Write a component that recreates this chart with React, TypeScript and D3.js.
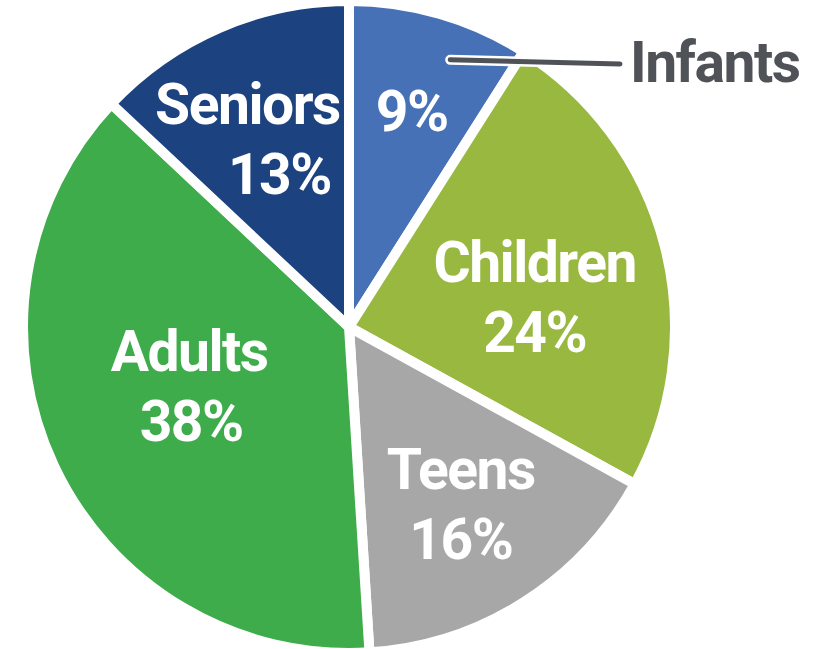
import React from 'react';
import * as d3 from 'd3';

const categories = ['Infants', 'Children', 'Teens', 'Adults', 'Seniors'];
const shares = [9, 24, 16, 38, 13];
const colors = ['#4671b7', '#98b840', '#a6a7a6', '#3eac4a', '#1c4380'];
// how far out each label block sits, as a fraction of the radius
const labelRadius = [0.7, 0.61, 0.65, 0.54, 0.64];
// small nudges for the label blocks
const nameNudge = [0, -4, 0, -3, -20];
const pctNudge = [0, -4, 0, -1, 12];
const yNudge = [0, 18, 0, -16, 0];

const width = 826;
const height = 649;
const cx = 349;
const cy = 327;
const radius = 326;

const labelStyle: React.CSSProperties = {
  fontFamily: 'Roboto, "Open Sans", sans-serif',
  fontWeight: 700,
  fontSize: 57,
  letterSpacing: -1.5,
  fill: '#ffffff',
};

export default function App() {
  const pie = d3
    .pie<number>()
    .sort(null)
    .value((d) => d);
  const arcs = pie(shares);

  const arc = d3
    .arc<d3.PieArcDatum<number>>()
    .innerRadius(0)
    .outerRadius(radius);

  const infants = arcs[0];
  const leadAngle =
    infants.startAngle + 0.64 * (infants.endAngle - infants.startAngle);
  const [lx, ly] = d3.pointRadial(leadAngle, (radius - 5) * 0.89);

  return (
    <svg
      width={width}
      height={height}
      style={{position: 'absolute', left: 0, top: 0, background: '#fff'}}>
      <g transform={`translate(${cx},${cy})`}>
        {arcs.map((a, i) => (
          <path
            key={categories[i]}
            d={arc(a) || ''}
            fill={colors[i]}
            stroke="#ffffff"
            strokeWidth={10}
            strokeLinejoin="miter"
          />
        ))}
        {arcs.map((a, i) => {
          const mid = (a.startAngle + a.endAngle) / 2;
          const [x, y0] = d3.pointRadial(mid, (radius - 5) * labelRadius[i]);
          const y = y0 + yNudge[i];
          if (i === 0) {
            return (
              <text
                key={'l' + i}
                x={x}
                y={y + 20}
                textAnchor="middle"
                style={labelStyle}>
                {shares[i]}%
              </text>
            );
          }
          return (
            <g key={'l' + i}>
              <text
                x={x + nameNudge[i]}
                y={y - 14}
                textAnchor="middle"
                style={labelStyle}>
                {categories[i]}
              </text>
              <text
                x={x + pctNudge[i]}
                y={y + 56}
                textAnchor="middle"
                style={labelStyle}>
                {shares[i]}%
              </text>
            </g>
          );
        })}
        <line
          x1={lx}
          y1={ly}
          x2={620 - cx}
          y2={64 - cy}
          stroke="#ffffff"
          strokeWidth={10}
          strokeLinecap="round"
        />
        <line
          x1={lx}
          y1={ly}
          x2={620 - cx}
          y2={64 - cy}
          stroke="#4f5357"
          strokeWidth={5}
          strokeLinecap="round"
        />
      </g>
      <text
        x={630}
        y={82}
        style={{...labelStyle, fill: '#4f5357'}}>
        {categories[0]}
      </text>
    </svg>
  );
}
